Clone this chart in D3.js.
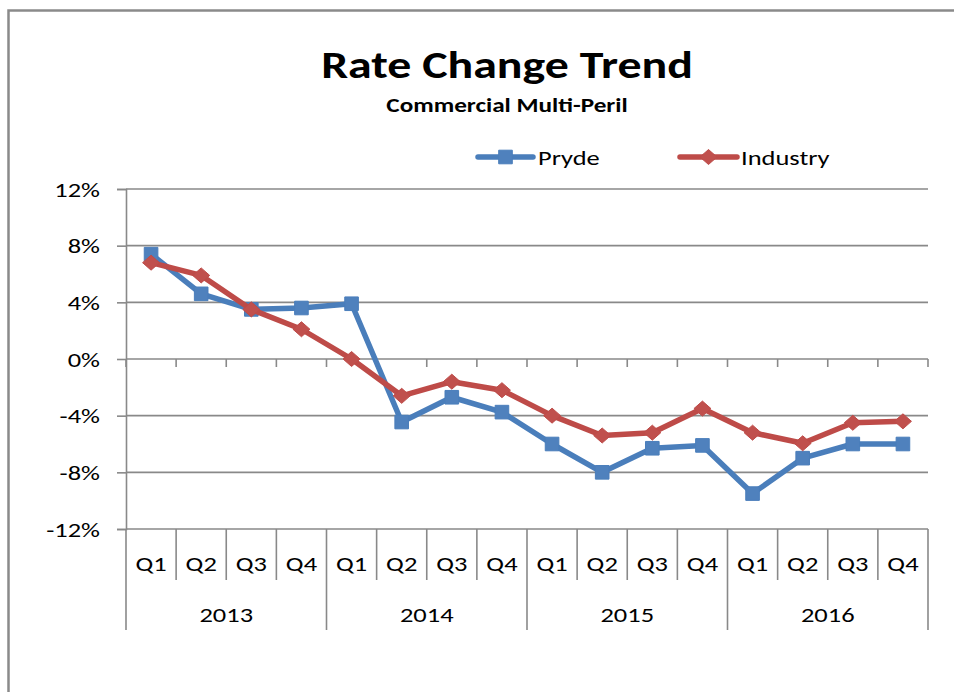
<!DOCTYPE html>
<html>
<head>
<meta charset="utf-8">
<script src="https://cdn.jsdelivr.net/npm/d3@7"></script>
<style>
  body { margin: 0; background: #fff; }
  svg { display: block; font-family: Carlito, Calibri, Lato, sans-serif; }
</style>
</head>
<body>
<svg id="drawing_region"></svg>
<script>
// data
const years = ["2013", "2014", "2015", "2016"];
const quarters = ["Q1", "Q2", "Q3", "Q4"];
const pryde = [7.4, 4.6, 3.5, 3.6, 3.9, -4.45, -2.7, -3.75, -6.0, -8.0, -6.3, -6.1, -9.5, -7.0, -6.0, -6.0];
const industry = [6.8, 5.9, 3.5, 2.1, 0.0, -2.6, -1.6, -2.2, -4.0, -5.4, -5.2, -3.5, -5.2, -5.95, -4.5, -4.4];
const yTicks = [-12, -8, -4, 0, 4, 8, 12];

const W = 954, H = 692;
const margin = {top: 189, right: 26, bottom: 163, left: 126};
const grey = "#898989";
const blue = "#4A7EBB", blueFill = "#4F81BD";
const red = "#BE4B48", redFill = "#C0504D";
const stretch = 1.26; // the reference text is wide, so stretch it a bit

const svg = d3.select("#drawing_region")
    .attr("width", W)
    .attr("height", H);

// put a text at (x, y) with horizontal stretch
function place(sel, x, y) {
    return sel.attr("x", 0).attr("y", 0)
        .attr("transform", `translate(${x},${y}) scale(${stretch},1)`);
}

// diamond a bit wider than tall
const wideDiamond = {
    draw(ctx, size) {
        const w = 8.5, h = 7.5;
        ctx.moveTo(0, -h);
        ctx.lineTo(w, 0);
        ctx.lineTo(0, h);
        ctx.lineTo(-w, 0);
        ctx.closePath();
    }
};

// chart border
svg.append("rect")
    .attr("x", 8.5).attr("y", 10.5)
    .attr("width", W + 20).attr("height", H + 20)
    .attr("fill", "none")
    .attr("stroke", "#8a8a8a")
    .attr("stroke-width", 2.5);

// titles
place(svg.append("text"), 507, 78)
    .attr("text-anchor", "middle")
    .attr("font-size", "38px")
    .attr("font-weight", "bold")
    .text("Rate Change Trend");

place(svg.append("text"), 507, 112)
    .attr("text-anchor", "middle")
    .attr("font-size", "20px")
    .attr("font-weight", "bold")
    .text("Commercial Multi-Peril");

// scales
const cats = [];
years.forEach(y => quarters.forEach(q => cats.push(y + " " + q)));

const x = d3.scaleBand()
    .domain(d3.range(cats.length))
    .range([margin.left, W - margin.right])
    .padding(0);

const y = d3.scaleLinear()
    .domain([-12, 12])
    .range([H - margin.bottom, margin.top]);

const xEnd = x.range()[1];
const cx = i => x(i) + x.bandwidth() / 2;

// gridlines
svg.append("g")
    .selectAll("line")
    .data(yTicks)
    .join("line")
    .attr("x1", margin.left).attr("x2", xEnd)
    .attr("y1", d => y(d)).attr("y2", d => y(d))
    .attr("stroke", grey)
    .attr("stroke-width", 1.6);

// y axis
const yaxis = d3.axisLeft(y)
    .tickValues(yTicks)
    .tickSize(9)
    .tickPadding(8)
    .tickFormat(d => d + "%");

const yg = svg.append("g")
    .attr("transform", `translate(${margin.left},0)`)
    .call(yaxis);
yg.select(".domain").attr("stroke", grey).attr("stroke-width", 1.6);
yg.selectAll(".tick line").attr("stroke", grey).attr("stroke-width", 1.6);
yg.selectAll(".tick text")
    .attr("font-size", "21px")
    .attr("font-family", "Carlito, Calibri, Lato, sans-serif")
    .attr("fill", "#000")
    .attr("x", 0)
    .attr("dy", null)
    .attr("transform", `translate(-26,7) scale(${stretch},1)`);

// category tick marks on the zero line
const bounds = d3.range(cats.length + 1).map(i => i < cats.length ? x(i) : xEnd);
svg.append("g")
    .selectAll("line")
    .data(bounds)
    .join("line")
    .attr("x1", d => d).attr("x2", d => d)
    .attr("y1", y(0)).attr("y2", y(0) + 8)
    .attr("stroke", grey)
    .attr("stroke-width", 1.6);

// multi-level category labels
const yBase = y(-12);
svg.append("g")
    .selectAll("line")
    .data(bounds)
    .join("line")
    .attr("x1", d => d).attr("x2", d => d)
    .attr("y1", yBase)
    .attr("y2", (d, i) => i % 4 === 0 ? yBase + 101 : yBase + 51)
    .attr("stroke", grey)
    .attr("stroke-width", 1.6);

svg.append("g")
    .selectAll("text")
    .data(cats)
    .join("text")
    .attr("transform", (d, i) => `translate(${cx(i)},${yBase + 42}) scale(${stretch},1)`)
    .attr("text-anchor", "middle")
    .attr("font-size", "21px")
    .text(d => d.split(" ")[1]);

svg.append("g")
    .selectAll("text")
    .data(years)
    .join("text")
    .attr("transform", (d, i) => `translate(${(x(i * 4) + bounds[i * 4 + 4]) / 2},${yBase + 93}) scale(${stretch},1)`)
    .attr("text-anchor", "middle")
    .attr("font-size", "21px")
    .text(d => d);

// lines
const line = d3.line()
    .x((d, i) => cx(i))
    .y(d => y(d));

const series = [
    {name: "Pryde", values: pryde, stroke: blue, fill: blueFill, symbol: d3.symbolSquare, size: 185},
    {name: "Industry", values: industry, stroke: red, fill: redFill, symbol: wideDiamond, size: 0}
];

series.forEach(s => {
    svg.append("path")
        .datum(s.values)
        .attr("fill", "none")
        .attr("stroke", s.stroke)
        .attr("stroke-width", 5.5)
        .attr("stroke-linejoin", "round")
        .attr("d", line);

    svg.append("g")
        .selectAll("path")
        .data(s.values)
        .join("path")
        .attr("transform", (d, i) => `translate(${cx(i)},${y(d)})`)
        .attr("d", d3.symbol().type(s.symbol).size(s.size))
        .attr("fill", s.fill)
        .attr("stroke", s.stroke)
        .attr("stroke-width", 1);
});

// legend
const legendPos = [{x0: 478, x1: 533, tx: 538}, {x0: 680, x1: 737, tx: 741}];
const legend = svg.append("g");
series.forEach((s, k) => {
    const p = legendPos[k];
    const g = legend.append("g");
    g.append("line")
        .attr("x1", p.x0).attr("x2", p.x1)
        .attr("y1", 157).attr("y2", 157)
        .attr("stroke", s.stroke)
        .attr("stroke-width", 5.5)
        .attr("stroke-linecap", "round");
    g.append("path")
        .attr("transform", `translate(${(p.x0 + p.x1) / 2},157)`)
        .attr("d", d3.symbol().type(s.symbol).size(s.size))
        .attr("fill", s.fill)
        .attr("stroke", s.stroke);
    place(g.append("text"), p.tx, 165)
        .attr("font-size", "21px")
        .text(s.name);
});
</script>
</body>
</html>
